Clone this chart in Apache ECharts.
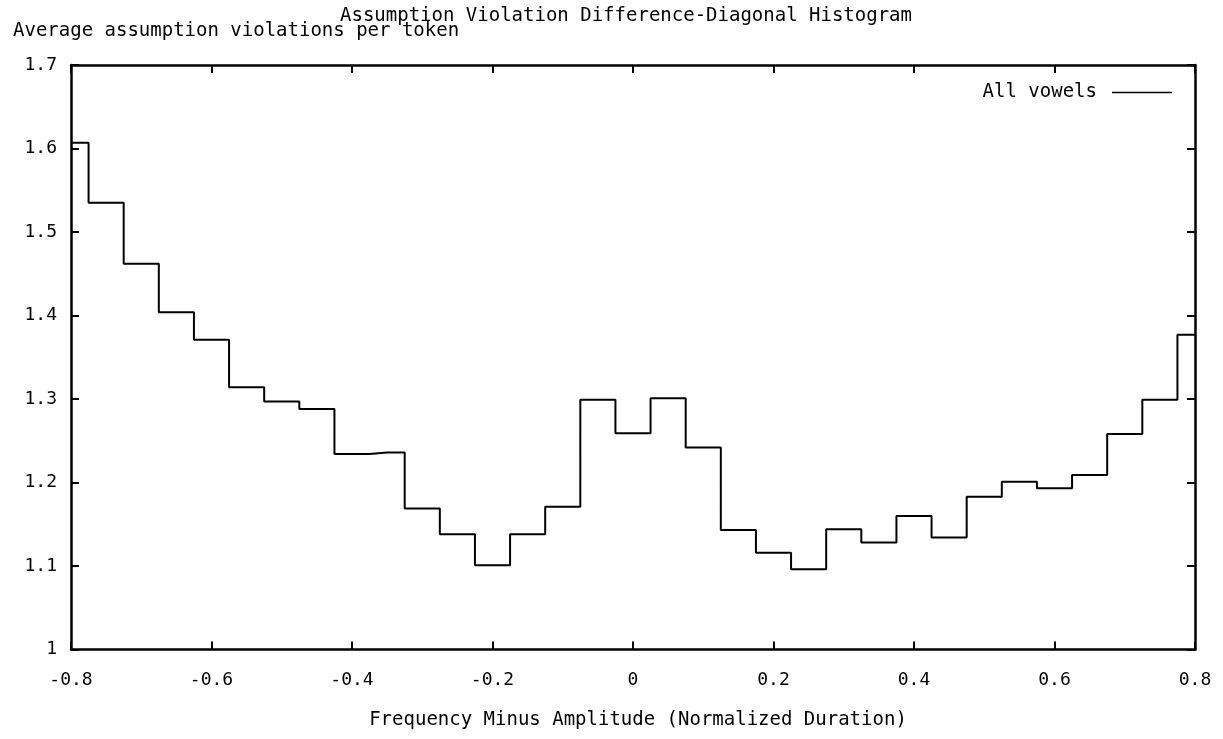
<!DOCTYPE html>
<html>
<head>
<meta charset="utf-8">
<script src="https://cdn.jsdelivr.net/npm/echarts@6/dist/echarts.min.js"></script>
<style>
html,body{margin:0;padding:0;background:#fff;}
#chart{width:1223px;height:739px;}
</style>
</head>
<body>
<div id="chart"></div>
<script>
// Bin centres (Frequency Minus Amplitude, normalized duration)
const binCenters = [-0.80,-0.75,-0.70,-0.65,-0.60,-0.55,-0.50,-0.45,-0.40,-0.35,-0.30,-0.25,-0.20,-0.15,-0.10,-0.05,
  0.00,0.05,0.10,0.15,0.20,0.25,0.30,0.35,0.40,0.45,0.50,0.55,0.60,0.65,0.70,0.75,0.80];
// Average assumption violations per token
const allVowels = [1.607,1.535,1.462,1.404,1.371,1.314,1.297,1.288,1.234,1.236,1.169,1.138,1.101,1.138,1.171,1.299,
  1.259,1.301,1.242,1.143,1.116,1.096,1.144,1.128,1.160,1.134,1.183,1.201,1.193,1.209,1.258,1.299,1.377];
const xTicks = [-0.8,-0.6,-0.4,-0.2,0,0.2,0.4,0.6,0.8];
const yTicks = [1,1.1,1.2,1.3,1.4,1.5,1.6,1.7];

const titleText = 'Assumption Violation Difference-Diagonal Histogram';
const yName = 'Average assumption violations per token';
const xName = 'Frequency Minus Amplitude (Normalized Duration)';
const seriesName = 'All vowels';

const FONT = '"DejaVu Sans Mono", monospace';
const chart = echarts.init(document.getElementById('chart'), null, {renderer:'canvas'});

function fmt(v){
  if (Math.abs(v) < 1e-9) return '0';
  return (Math.round(v*10)/10).toString();
}

const axisLine = {show:true, onZero:false, lineStyle:{color:'#000', width:2.5}};
const axisTick = {show:true, inside:true, length:8, lineStyle:{color:'#000', width:2}};

chart.setOption({
  animation:false,
  backgroundColor:'#fff',
  title:[
    {text:titleText, left:621, top:2, textAlign:'center',
     textStyle:{fontFamily:FONT, fontSize:19, fontWeight:'normal', color:'#000'}},
    {text:yName, left:8, top:17,
     textStyle:{fontFamily:FONT, fontSize:19, fontWeight:'normal', color:'#000'}},
    {text:xName, left:633, top:706, textAlign:'center',
     textStyle:{fontFamily:FONT, fontSize:19, fontWeight:'normal', color:'#000'}}
  ],
  legend:{
    data:[seriesName], right:46, top:78, align:'right', icon:'rect',
    itemWidth:60, itemHeight:1.5,
    textStyle:{fontFamily:FONT, fontSize:19, color:'#000', padding:[0,10,0,0]},
    itemStyle:{color:'#000'}
  },
  grid:{left:71, right:28, top:65, bottom:89.5, containLabel:false},
  xAxis:[
    {type:'value', min:-0.8, max:0.8, interval:0.2, position:'bottom',
     axisLine, axisTick, splitLine:{show:false},
     axisLabel:{fontFamily:FONT, fontSize:18, color:'#000', margin:22, formatter:fmt}},
    {type:'value', min:-0.8, max:0.8, interval:0.2, position:'top',
     axisLine, axisTick, splitLine:{show:false}, axisLabel:{show:false}}
  ],
  yAxis:[
    {type:'value', min:1, max:1.7, interval:0.1, position:'left',
     axisLine, axisTick, splitLine:{show:false},
     axisLabel:{fontFamily:FONT, fontSize:18, color:'#000', margin:14, formatter:fmt}},
    {type:'value', min:1, max:1.7, interval:0.1, position:'right',
     axisLine, axisTick, splitLine:{show:false}, axisLabel:{show:false}}
  ],
  series:[{
    name:seriesName, type:'line', step:'middle', symbol:'none',
    xAxisIndex:0, yAxisIndex:0,
    lineStyle:{color:'#000', width:2},
    itemStyle:{color:'#000'},
    data: binCenters.map((x,i)=>[x, allVowels[i]])
  }]
});
</script>
</body>
</html>
